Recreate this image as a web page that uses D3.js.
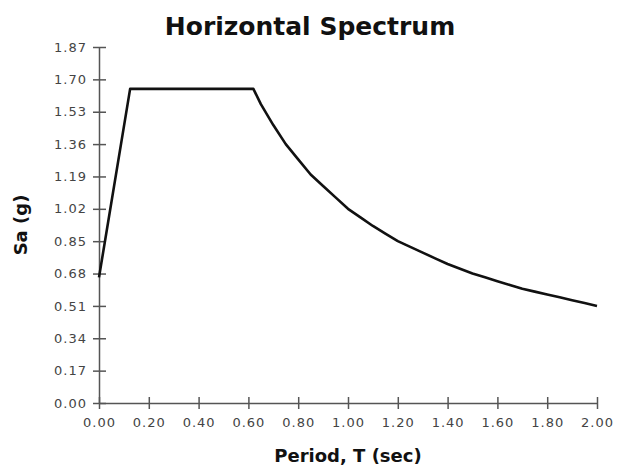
<!DOCTYPE html>
<html>
<head>
<meta charset="utf-8">
<script src="https://cdn.jsdelivr.net/npm/d3@7"></script>
<style>
  body { margin: 0; background: #fff; }
  svg { display: block; font-family: "DejaVu Sans", sans-serif; }
</style>
</head>
<body>
<div id="chart"></div>
<script>
// spectrum points
const periods = [0.00, 0.125, 0.62, 0.65, 0.70, 0.75, 0.80, 0.85, 0.90, 0.95, 1.00, 1.05, 1.10, 1.15, 1.20, 1.25, 1.30, 1.35, 1.40, 1.45, 1.50, 1.55, 1.60, 1.65, 1.70, 1.75, 1.80, 1.85, 1.90, 1.95, 2.00];
const saValues = [0.66, 1.65, 1.65, 1.57, 1.46, 1.36, 1.28, 1.20, 1.14, 1.08, 1.02, 0.975, 0.93, 0.89, 0.85, 0.82, 0.79, 0.76, 0.73, 0.705, 0.68, 0.66, 0.64, 0.62, 0.60, 0.585, 0.57, 0.555, 0.54, 0.525, 0.51];
const yTicks = [0.00, 0.17, 0.34, 0.51, 0.68, 0.85, 1.02, 1.19, 1.36, 1.53, 1.70, 1.87];
const xTicks = [0.00, 0.20, 0.40, 0.60, 0.80, 1.00, 1.20, 1.40, 1.60, 1.80, 2.00];

const width = 618, height = 466;
const margin = { top: 47, right: 21, bottom: 62, left: 99 };
const innerW = width - margin.left - margin.right,
    innerH = height - margin.top - margin.bottom - 1;

const svg = d3.select("#chart")
    .append("svg")
    .attr("width", width)
    .attr("height", height);

svg.append("text")
    .attr("x", 310)
    .attr("y", 35)
    .attr("text-anchor", "middle")
    .attr("font-size", 25)
    .attr("font-weight", "bold")
    .attr("fill", "#111")
    .text("Horizontal Spectrum");

const g = svg.append("g")
    .attr("transform", `translate(${margin.left},${margin.top})`);

const xScale = d3.scaleLinear().domain([0, 2]).range([0, innerW]);
const yScale = d3.scaleLinear().domain([0, 1.87]).range([innerH, 0]);

const axisX = d3.axisBottom(xScale)
    .tickValues(xTicks)
    .tickSizeInner(6)
    .tickSizeOuter(0)
    .tickPadding(9)
    .tickFormat(d3.format(".2f"));
const axisY = d3.axisLeft(yScale)
    .tickValues(yTicks)
    .tickSizeInner(6)
    .tickSizeOuter(0)
    .tickPadding(6)
    .tickFormat(d3.format(".2f"));

const gx = g.append("g")
    .attr("class", "axis_x")
    .attr("transform", `translate(0,${innerH})`)
    .call(axisX);
const gy = g.append("g")
    .attr("class", "axis_y")
    .call(axisY);

// ticks cross the axis line on both sides
gx.selectAll(".tick line").attr("y1", -6).attr("y2", 6);
gy.selectAll(".tick line").attr("x1", -6).attr("x2", 7);

g.selectAll(".domain, .tick line")
    .attr("stroke", "#555")
    .attr("stroke-width", 1.5);
g.selectAll(".tick text")
    .attr("font-size", 13)
    .attr("letter-spacing", 1)
    .attr("font-family", "DejaVu Sans, sans-serif")
    .attr("fill", "#444");

// the curve
const points = periods.map((t, i) => ({ t: t, sa: saValues[i] }));
const line = d3.line()
    .x(d => xScale(d.t))
    .y(d => yScale(d.sa));

g.append("path")
    .datum(points)
    .attr("fill", "none")
    .attr("stroke", "#111")
    .attr("stroke-width", 2.6)
    .attr("stroke-linejoin", "round")
    .attr("d", line);

// axis titles
svg.append("text")
    .attr("x", margin.left + innerW / 2)
    .attr("y", 462)
    .attr("text-anchor", "middle")
    .attr("font-size", 18)
    .attr("font-weight", "bold")
    .attr("fill", "#111")
    .text("Period, T (sec)");

svg.append("text")
    .attr("transform", `translate(27, ${margin.top + innerH / 2}) rotate(-90)`)
    .attr("text-anchor", "middle")
    .attr("font-size", 18)
    .attr("font-weight", "bold")
    .attr("fill", "#111")
    .text("Sa (g)");
</script>
</body>
</html>
